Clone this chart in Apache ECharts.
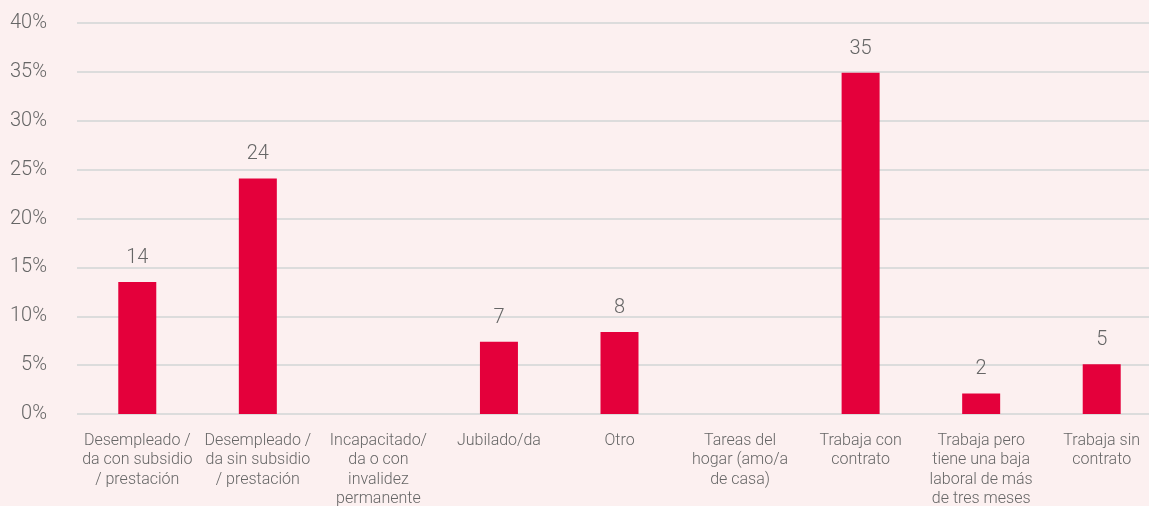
<!DOCTYPE html>
<html>
<head>
<meta charset="utf-8">
<script src="https://cdn.jsdelivr.net/npm/echarts@6/dist/echarts.min.js"></script>
<style>
  html, body { margin: 0; padding: 0; background: #fcf0f0; }
  #chart { width: 1149px; height: 506px; }
</style>
</head>
<body>
<div id="chart"></div>
<script>
// categorias (con saltos de linea como en el original)
var categories = [
    "Desempleado /\nda con subsidio\n/ prestación",
    "Desempleado /\nda sin subsidio\n/ prestación",
    "Incapacitado/\nda o con\ninvalidez\npermanente",
    "Jubilado/da",
    "Otro",
    "Tareas del\nhogar (amo/a\nde casa)",
    "Trabaja con\ncontrato",
    "Trabaja pero\ntiene una baja\nlaboral de más\nde tres meses",
    "Trabaja sin\ncontrato"
]
var values = [13.5, 24.1, 0, 7.4, 8.4, 0, 34.9, 2.1, 5.1]

var myChart = echarts.init(document.getElementById("chart"))

var option = {
    backgroundColor: "#fcf0f0",
    animation: false,
    grid: { left: 77, right: -13, top: 23, bottom: 92, outerBoundsMode: "none", containLabel: false },
    xAxis: {
        type: "category",
        data: categories,
        axisLine: { show: false },
        axisTick: { show: false },
        axisLabel: {
            interval: 0,
            margin: 17,
            color: "#666",
            fontFamily: "Roboto",
            fontWeight: 300,
            fontSize: 16,
            lineHeight: 19.5
        }
    },
    yAxis: {
        type: "value",
        min: 0,
        max: 40,
        interval: 5,
        axisLine: { show: false },
        axisTick: { show: false },
        splitLine: { lineStyle: { color: "#dcdcdc", width: 2 } },
        axisLabel: {
            margin: 30,
            color: "#666",
            fontFamily: "Roboto",
            fontWeight: 300,
            fontSize: 20,
            formatter: "{value}%"
        }
    },
    series: [{
        type: "bar",
        data: values,
        barWidth: 38,
        itemStyle: { color: "#e4003b" },
        label: {
            show: true,
            position: "top",
            distance: 14,
            color: "#666",
            fontFamily: "Roboto",
            fontWeight: 300,
            fontSize: 20,
            formatter: function (p) {
                return p.value > 0 ? Math.round(p.value) : ""
            }
        }
    }]
}

myChart.setOption(option)
</script>
</body>
</html>
